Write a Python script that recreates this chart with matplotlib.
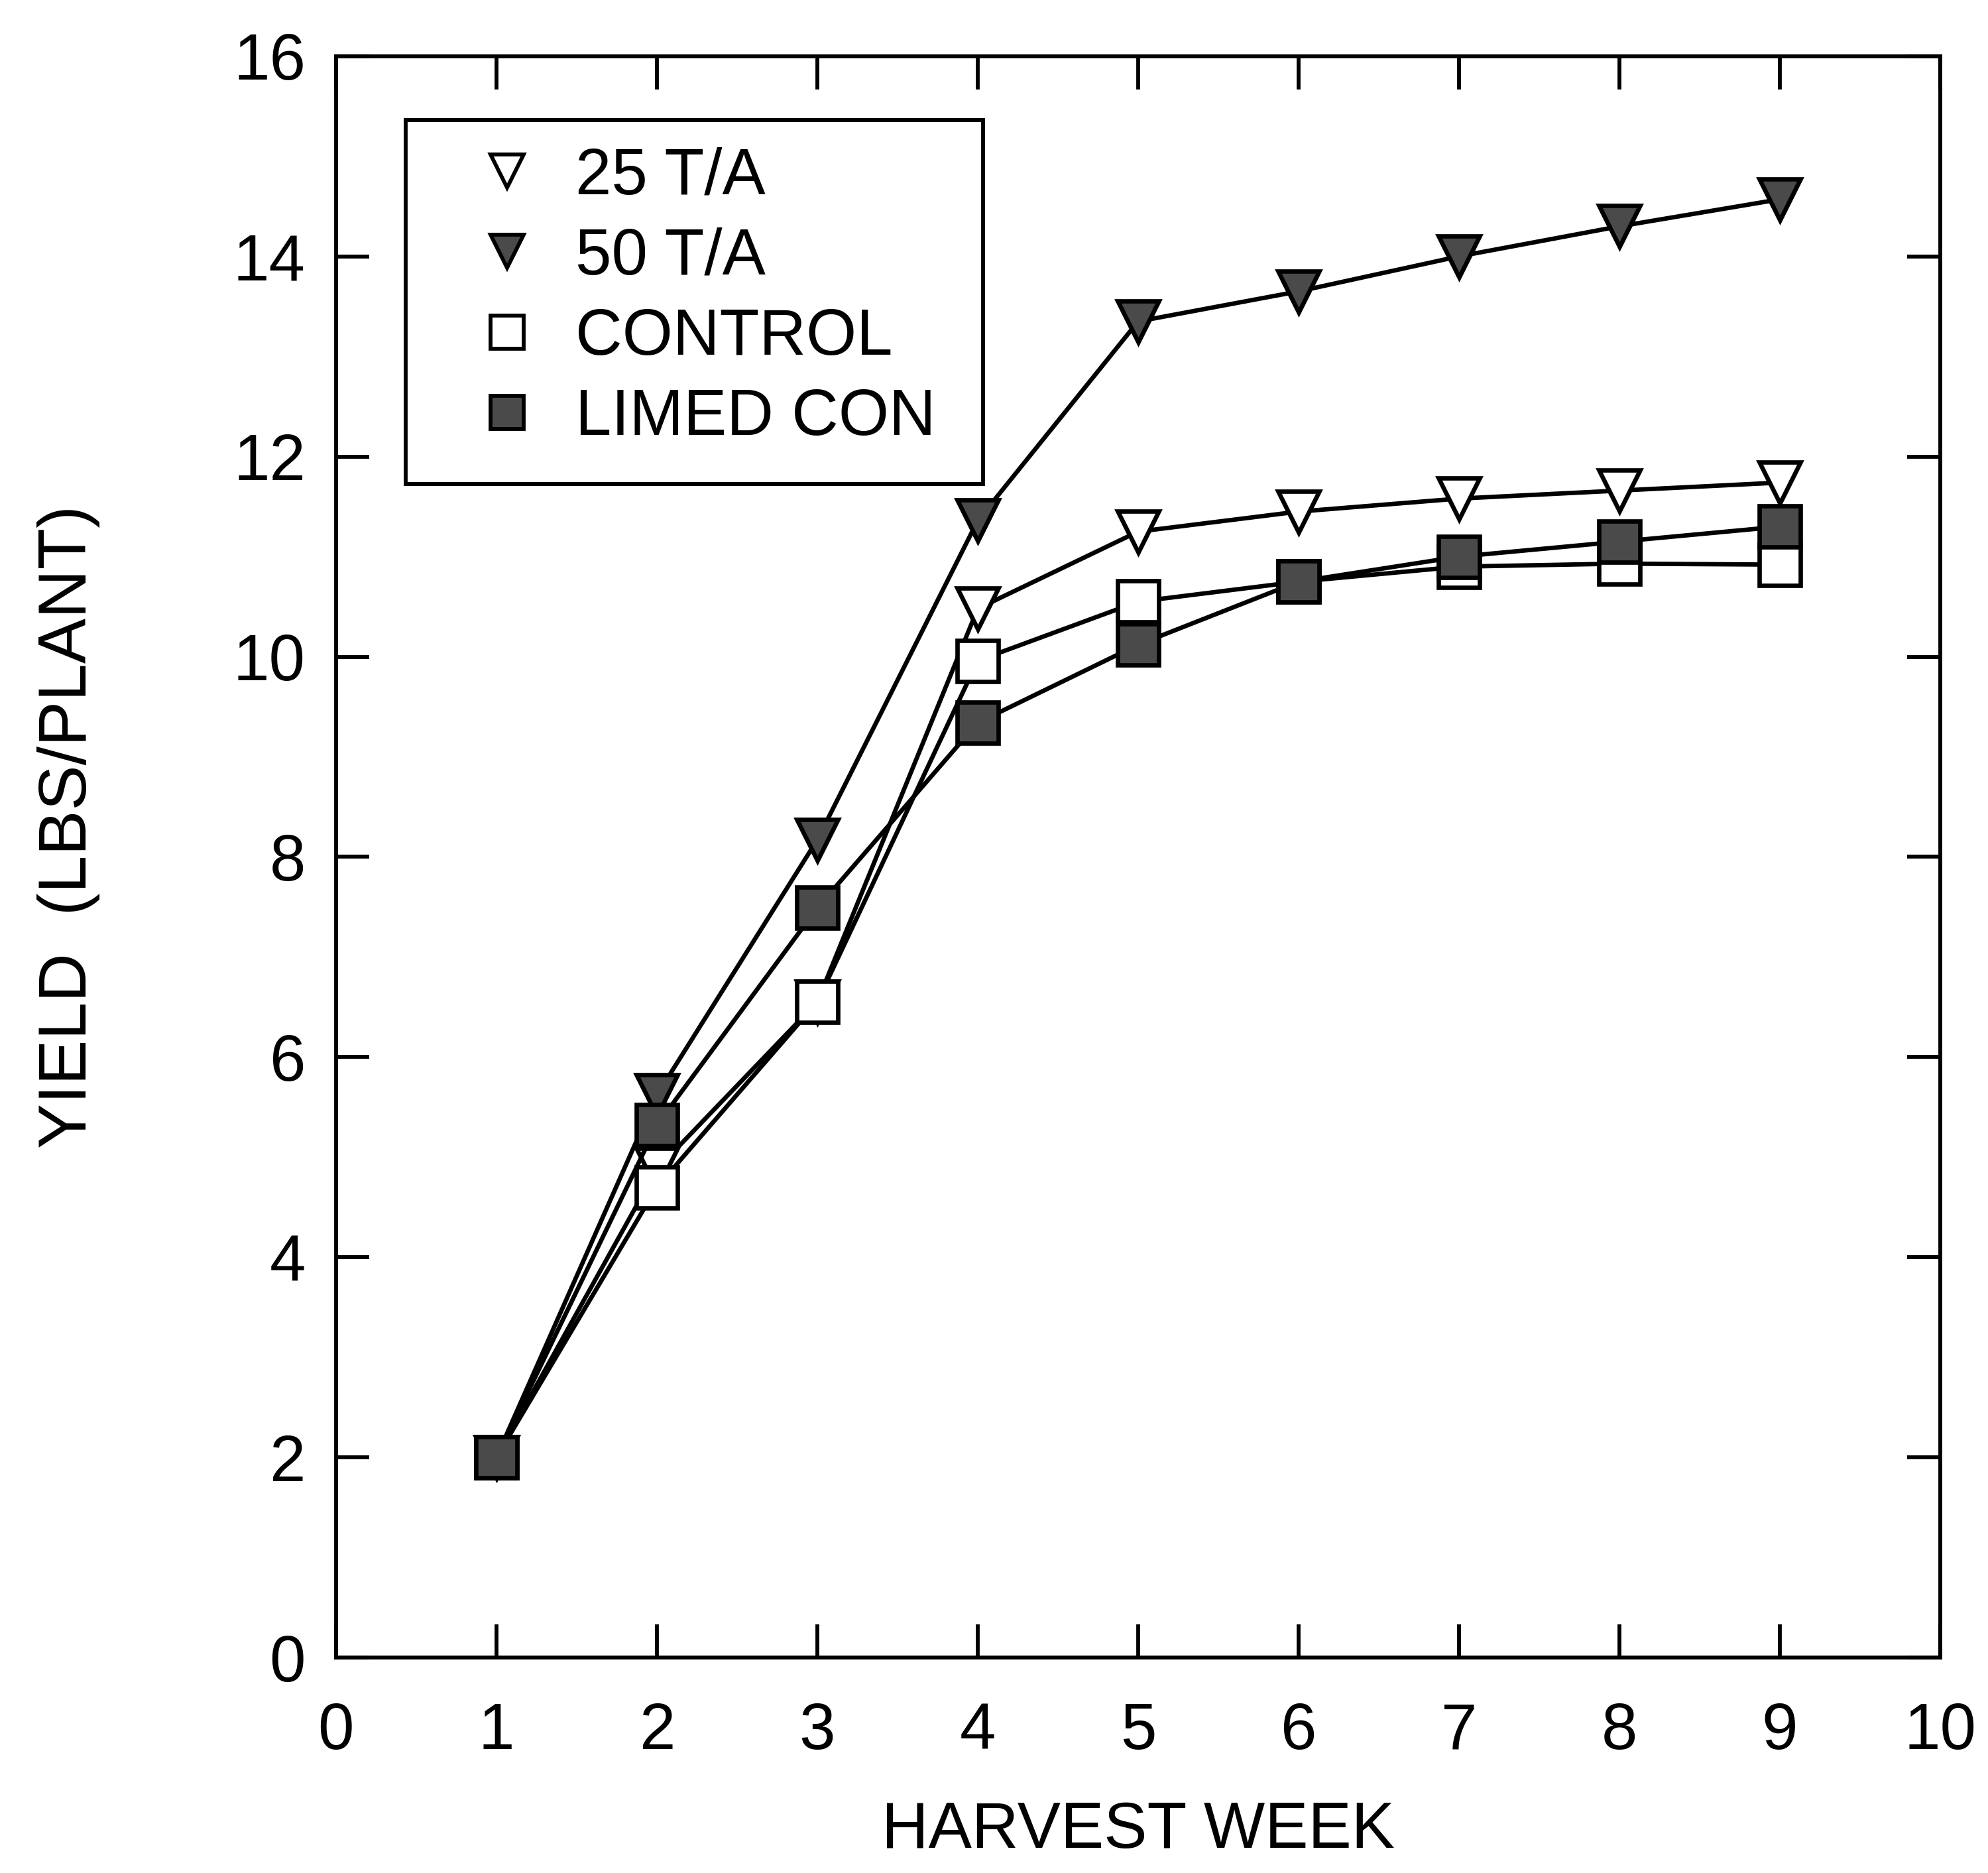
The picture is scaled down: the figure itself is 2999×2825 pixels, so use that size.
import matplotlib
matplotlib.use("Agg")
import matplotlib.pyplot as plt
from matplotlib.lines import Line2D
from matplotlib.patches import Rectangle
import numpy as np

# harvest weeks and yields (lbs/plant)
weeks = [1, 2, 3, 4, 5, 6, 7, 8, 9]
yield_25 = [2.0, 4.88, 6.55, 10.48, 11.25, 11.45, 11.58, 11.66, 11.74]
yield_50 = [2.0, 5.62, 8.17, 11.36, 13.35, 13.65, 14.0, 14.3, 14.57]
yield_control = [2.0, 4.7, 6.55, 9.96, 10.55, 10.75, 10.9, 10.93, 10.92]
yield_limed = [2.0, 5.32, 7.49, 9.34, 10.12, 10.75, 11.0, 11.15, 11.3]

labels = ['25 T/A', '50 T/A', 'CONTROL', 'LIMED CON']
xticks = list(range(0, 11))
yticks = list(range(0, 17, 2))

# PLOT SETTINGS
# ==================
fontsize = 23.5
fill = '#4a4a4a'
ms = 15
lw = 1.6

plt.rcParams['font.family'] = ['Liberation Sans', 'DejaVu Sans']

fig = plt.figure(figsize=(2999 / 300, 2825 / 300), dpi=300)
ax = fig.add_axes([0.169, 0.115, 0.807, 0.855])

series = [
    (yield_25, 'v', 'white'),
    (yield_50, 'v', fill),
    (yield_control, 's', 'white'),
    (yield_limed, 's', fill),
]
for vals, mk, fc in series:
    ax.plot(weeks, vals, color='black', lw=lw, marker=mk, markersize=ms,
            markerfacecolor=fc, markeredgecolor='black', markeredgewidth=1.6)

ax.set_xlim(0, 10)
ax.set_ylim(0, 16)
ax.set_xticks(xticks)
ax.set_yticks(yticks)
ax.tick_params(direction='in', length=12, width=1.4, labelsize=fontsize,
               top=True, right=True)
ax.tick_params(axis='x', pad=16)
ax.tick_params(axis='y', pad=11)
for s in ax.spines.values():
    s.set_linewidth(1.4)

ax.set_xlabel('HARVEST WEEK', fontsize=fontsize, labelpad=14)
ax.set_ylabel('YIELD  (LBS/PLANT)', fontsize=24.5)
ax.yaxis.set_label_coords(-0.147, 0.519)

# legend box drawn by hand, entries placed inside it
ax.add_patch(Rectangle((0.0435, 0.733), 0.36, 0.227, transform=ax.transAxes,
                       facecolor='white', edgecolor='black', lw=1.4, zorder=4))
handles = [Line2D([], [], ls='none', marker=mk, markersize=ms * 0.8,
                  markerfacecolor=fc, markeredgecolor='black',
                  markeredgewidth=1.4)
           for _, mk, fc in series]
leg = ax.legend(handles, labels, loc='upper left',
                bbox_to_anchor=(0.0866, 0.9435), fontsize=fontsize,
                frameon=False, handlelength=1.0, handletextpad=0.55,
                labelspacing=0.31, borderpad=0, borderaxespad=0)
leg.set_zorder(5)

fig.savefig('out.png', dpi=300)
